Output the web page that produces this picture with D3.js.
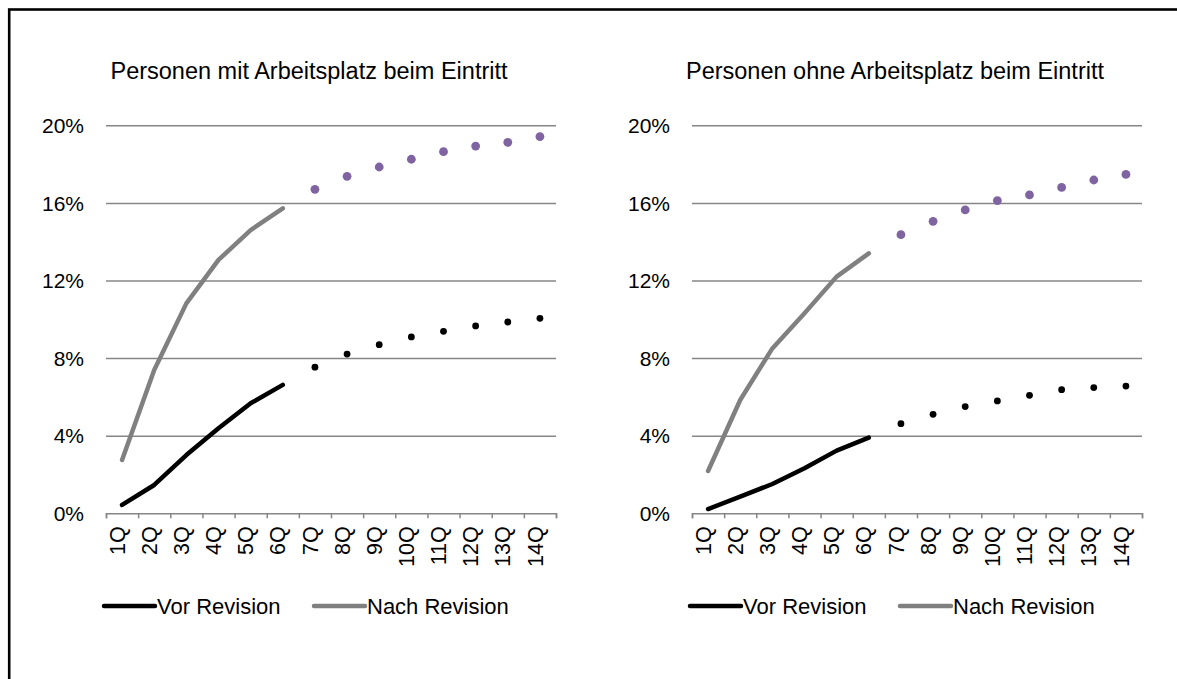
<!DOCTYPE html>
<meta charset="utf-8">
<title>Personen mit / ohne Arbeitsplatz beim Eintritt</title>
<style>
  body { margin: 0; background: #fff; font-family: "Liberation Sans", Arial, sans-serif; }
  text { fill: #000; }
  .grid line { stroke: #868686; stroke-width: 1.5; }
  .grid path { display: none; }
  .xaxis path, .xaxis line { stroke: #868686; stroke-width: 1.5; }
  .line { fill: none; stroke-width: 4.5; stroke-linecap: round; stroke-linejoin: round; }
</style>
<body>
<script src="https://cdn.jsdelivr.net/npm/d3@7"></script>
<script>
// categories and ticks
var quarters = ["1Q","2Q","3Q","4Q","5Q","6Q","7Q","8Q","9Q","10Q","11Q","12Q","13Q","14Q"];
var yTicks = [0, 0.04, 0.08, 0.12, 0.16, 0.20];
var titles = ["Personen mit Arbeitsplatz beim Eintritt", "Personen ohne Arbeitsplatz beim Eintritt"];
var legendLabels = ["Vor Revision", "Nach Revision"];

// Personen mit Arbeitsplatz: observed (1Q-6Q) and projected (7Q-14Q)
var mitVor      = [0.0043, 0.0146, 0.0300, 0.0438, 0.0567, 0.0662];
var mitNach     = [0.0275, 0.0739, 0.1082, 0.1306, 0.1460, 0.1572];
var mitVorProg  = [0.0753, 0.0821, 0.0869, 0.0909, 0.0938, 0.0966, 0.0986, 0.1005];
var mitNachProg = [0.1670, 0.1737, 0.1785, 0.1825, 0.1864, 0.1893, 0.1912, 0.1942];

// Personen ohne Arbeitsplatz
var ohneVor      = [0.0022, 0.0086, 0.0151, 0.0232, 0.0323, 0.0390];
var ohneNach     = [0.0218, 0.0584, 0.0850, 0.1031, 0.1220, 0.1340];
var ohneVorProg  = [0.0462, 0.0510, 0.0550, 0.0579, 0.0608, 0.0637, 0.0648, 0.0656];
var ohneNachProg = [0.1436, 0.1505, 0.1564, 0.1612, 0.1641, 0.1680, 0.1718, 0.1747];

var panels = [
  { title: titles[0], vor: mitVor, nach: mitNach, vorProg: mitVorProg, nachProg: mitNachProg, x0: 106 },
  { title: titles[1], vor: ohneVor, nach: ohneNach, vorProg: ohneVorProg, nachProg: ohneNachProg, x0: 692 }
];

var W = 1177, H = 679;
var plotW = 450, yTop = 125.3, yBottom = 513.3;

var svg = d3.select("body").append("svg")
    .attr("width", W)
    .attr("height", H);

// outer frame (only top and left edges fall inside the picture)
svg.append("rect")
    .attr("x", 9.2).attr("y", 9.5)
    .attr("width", 1300).attr("height", 800)
    .attr("fill", "none")
    .attr("stroke", "#000")
    .attr("stroke-width", 2.6);

var y = d3.scaleLinear().domain([0, 0.2]).range([yBottom, yTop]);

panels.forEach(function(p) {
  var g = svg.append("g");

  var x = d3.scaleBand().domain(quarters).range([p.x0, p.x0 + plotW]);
  var xEdges = d3.scaleLinear().domain([0, quarters.length]).range([p.x0, p.x0 + plotW]);

  // title
  g.append("text")
      .attr("x", p.x0 + plotW / 2 - 22)
      .attr("y", 79)
      .attr("text-anchor", "middle")
      .style("font-size", "23.5px")
      .text(p.title);

  // horizontal gridlines + y labels
  g.append("g")
      .attr("class", "grid")
      .attr("transform", "translate(" + p.x0 + ",0)")
      .call(d3.axisLeft(y).tickValues(yTicks.slice(1)).tickSize(-plotW).tickFormat(""));

  g.append("g")
      .attr("transform", "translate(" + (p.x0 - 22) + ",0)")
      .call(d3.axisLeft(y).tickValues(yTicks).tickSize(0).tickFormat(d3.format(".0%")))
      .call(function(a) {
        a.select(".domain").remove();
        a.selectAll("text").style("font-size", "21px").attr("x", 0).attr("dy", "0.34em").style("font-family", "inherit");
      });

  // x axis: line with ticks at category boundaries
  g.append("g")
      .attr("class", "xaxis")
      .attr("transform", "translate(0," + yBottom + ")")
      .call(d3.axisBottom(xEdges).ticks(quarters.length).tickSizeInner(5).tickSizeOuter(5).tickFormat(""));

  // x labels, rotated
  g.append("g")
      .attr("transform", "translate(0," + yBottom + ")")
      .call(d3.axisBottom(x).tickSize(0))
      .call(function(a) {
        a.select(".domain").remove();
        a.selectAll("text")
            .style("font-size", "21.5px")
            .style("font-family", "inherit")
            .attr("text-anchor", "end")
            .attr("transform", "rotate(-90)")
            .attr("x", -13)
            .attr("y", 0)
            .attr("dy", "0.12em");
      });

  var line = d3.line()
      .x(function(d, i) { return x(quarters[i]) + x.bandwidth() / 2; })
      .y(function(d) { return y(d); });

  g.append("path").datum(p.nach).attr("class", "line").attr("stroke", "#808080").attr("d", line);
  g.append("path").datum(p.vor).attr("class", "line").attr("stroke", "#000").attr("d", line);

  var off = p.vor.length;
  g.selectAll(".dotNach").data(p.nachProg).enter().append("circle")
      .attr("cx", function(d, i) { return x(quarters[i + off]) + x.bandwidth() / 2; })
      .attr("cy", function(d) { return y(d); })
      .attr("r", 4.4)
      .attr("fill", "#8064a2");
  g.selectAll(".dotVor").data(p.vorProg).enter().append("circle")
      .attr("cx", function(d, i) { return x(quarters[i + off]) + x.bandwidth() / 2; })
      .attr("cy", function(d) { return y(d); })
      .attr("r", 3.4)
      .attr("fill", "#000");

  // legend
  var legY = 606;
  var items = [
    { label: legendLabels[0], color: "#000", dx: -2 },
    { label: legendLabels[1], color: "#808080", dx: 208 }
  ];
  items.forEach(function(it) {
    g.append("line")
        .attr("x1", p.x0 + it.dx).attr("x2", p.x0 + it.dx + 51)
        .attr("y1", legY).attr("y2", legY)
        .attr("stroke", it.color)
        .attr("stroke-width", 4.5)
        .attr("stroke-linecap", "round");
    g.append("text")
        .attr("x", p.x0 + it.dx + 53)
        .attr("y", legY)
        .attr("dy", "0.35em")
        .style("font-size", "22px")
        .text(it.label);
  });
});
</script>
</body>
